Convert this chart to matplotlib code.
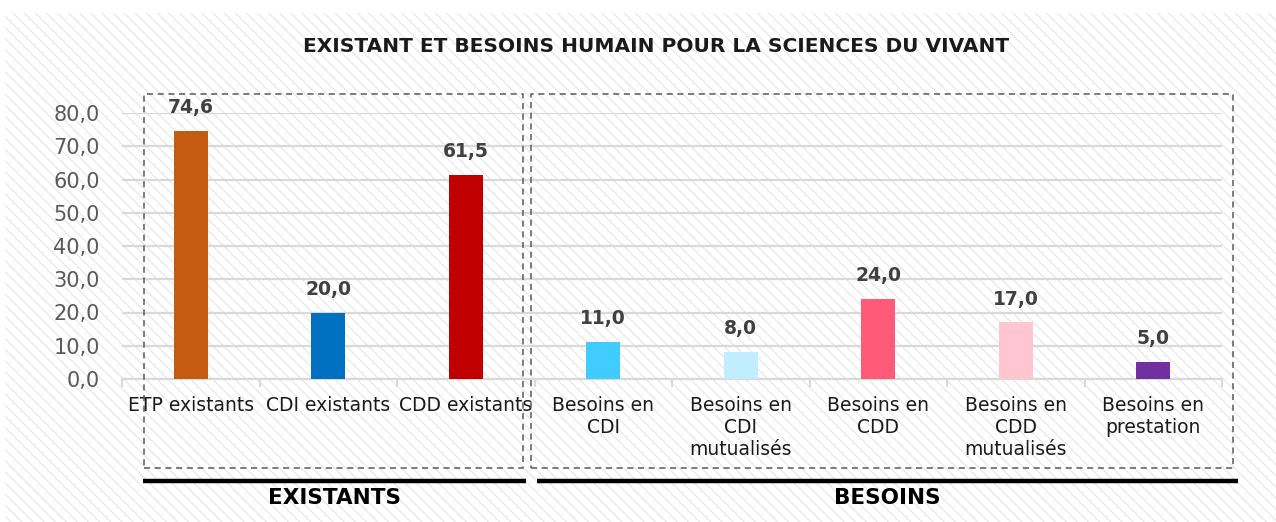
import matplotlib
matplotlib.use("Agg")
import matplotlib.pyplot as plt
from matplotlib.patches import Rectangle
from matplotlib.lines import Line2D

categories = ["ETP existants", "CDI existants", "CDD existants",
              "Besoins en\nCDI", "Besoins en\nCDI\nmutualisés", "Besoins en\nCDD",
              "Besoins en\nCDD\nmutualisés", "Besoins en\nprestation"]
values = [74.6, 20.0, 61.5, 11.0, 8.0, 24.0, 17.0, 5.0]
colors = ["#C55A11", "#0070C0", "#C00000", "#41CCFF",
          "#C1EEFF", "#FF5B79", "#FFC6D1", "#7030A0"]
groups = ["EXISTANTS", "BESOINS"]
yticks = [0, 10, 20, 30, 40, 50, 60, 70, 80]

W, H = 1276, 522
plt.rcParams["font.family"] = ["DejaVu Sans"]
plt.rcParams["hatch.linewidth"] = 0.9

fig = plt.figure(figsize=(W / 100, H / 100), dpi=100)
fig.patch.set_facecolor("white")


def fx(px):
    return px / W


def fy(py):
    return 1 - py / H


# hatched background
bg = Rectangle((fx(5), 0), 1 - fx(5), fy(13), transform=fig.transFigure,
               facecolor="white", edgecolor="#E8E8E8", hatch="\\\\\\", lw=0, zorder=0)
fig.patches.append(bg)

ax = fig.add_axes([fx(122), fy(379), fx(1222) - fx(122), fy(113) - fy(379)])
ax.set_facecolor("none")
ax.set_zorder(2)

x = list(range(len(categories)))
ax.bar(x, values, width=0.25, color=colors, zorder=3)
for xi, v in zip(x, values):
    ax.text(xi, v + 4.2, f"{v:.1f}".replace(".", ","), ha="center", va="bottom",
            fontsize=13.5, fontweight="bold", color="#404040", clip_on=False)

ax.set_xlim(-0.5, len(categories) - 0.5)
ax.set_ylim(0, 80)
ax.set_yticks(yticks)
ax.set_yticklabels([f"{t:.1f}".replace(".", ",") for t in yticks],
                   fontsize=15, color="#595959")
ax.tick_params(axis="y", length=0, pad=16)
ax.grid(axis="y", color="#D9D9D9", lw=1.6, zorder=1)
ax.set_axisbelow(True)

ax.set_xticks(x)
ax.set_xticklabels(categories, fontsize=13.5, color="#1A1A1A", linespacing=1.2, va="top")
ax.tick_params(axis="x", length=0, pad=12)
ax.set_xticks([i - 0.5 for i in range(len(categories) + 1)], minor=True)
ax.tick_params(axis="x", which="minor", length=6, color="#D9D9D9", width=1.5)

for s in ["top", "right", "left"]:
    ax.spines[s].set_visible(False)
ax.spines["bottom"].set_color("#D9D9D9")
ax.spines["bottom"].set_linewidth(1.6)

fig.text(fx(656), fy(47), "EXISTANT ET BESOINS HUMAIN POUR LA SCIENCES DU VIVANT",
         ha="center", va="center", fontsize=14.5, fontweight="bold", color="#1A1A1A")

# dashed group frames
for x0, x1 in [(144, 523), (531, 1233)]:
    fig.patches.append(Rectangle((fx(x0), fy(468)), fx(x1) - fx(x0), fy(94) - fy(468),
                                 transform=fig.transFigure, fill=False,
                                 edgecolor="#595959", lw=1.1, ls=(0, (4, 3)), zorder=5))

# group underline and label
for (x0, x1), name in zip([(143, 526), (537, 1238)], groups):
    fig.lines.append(Line2D([fx(x0), fx(x1)], [fy(481), fy(481)], transform=fig.transFigure,
                            color="black", lw=3.2, solid_capstyle="butt"))
    fig.text(fx((x0 + x1) / 2), fy(498), name, ha="center", va="center",
             fontsize=15.5, fontweight="bold", color="black")

fig.savefig("out.png", dpi=100)
